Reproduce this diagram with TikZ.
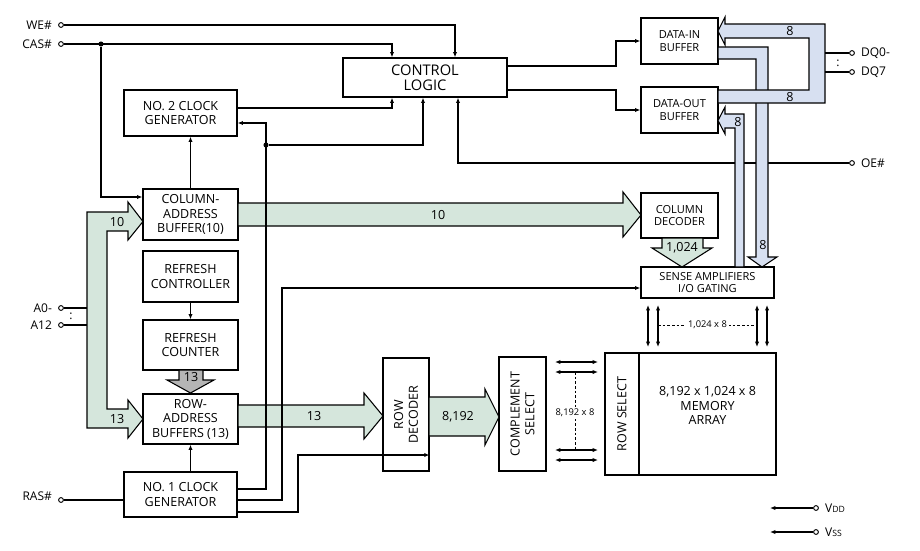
\documentclass[tikz,border=0pt]{standalone}
\usepackage{fontspec}
\setmainfont{Open Sans}
\usetikzlibrary{arrows.meta,positioning}

\definecolor{busgreen}{HTML}{D5E6DC}
\definecolor{busblue}{HTML}{D7E0F1}
\definecolor{busgray}{HTML}{B5B5B5}

\newcommand{\fbig}{\fontsize{11}{11.5}\selectfont}
\newcommand{\fmid}{\fontsize{9.4}{10.9}\selectfont}
\newcommand{\fsml}{\fontsize{8.3}{9.6}\selectfont}
\newcommand{\ftiny}{\fontsize{7}{8}\selectfont}

\tikzset{
  box/.style 2 args={draw, line width=0.9pt, inner sep=0pt, align=center,
    minimum width=#1*0.75pt, minimum height=#2*0.75pt},
  arr/.style={line width=0.8pt, -{Latex[length=4pt,width=3.2pt]}},
  biarr/.style={line width=0.8pt, {Latex[length=4pt,width=3.2pt]}-{Latex[length=4pt,width=3.2pt]}},
  wire/.style={line width=0.8pt},
  term/.style={circle, draw, line width=0.7pt, fill=white, inner sep=0pt, minimum size=3.6pt},
  dot/.style={circle, fill, inner sep=0pt, minimum size=3.8pt},
  pinlbl/.style={font=\fontsize{9}{10}\selectfont, inner sep=0pt},
  buslbl/.style={font=\fontsize{9.4}{10}\selectfont, inner sep=0pt},
  gbus/.style={fill=busgreen, draw, line width=0.8pt},
  bbus/.style={fill=busblue, draw, line width=0.8pt},
}

\begin{document}
\begin{tikzpicture}[x=0.75pt,y=-0.75pt]
\useasboundingbox (0,0) rectangle (920,550);

% blocks
\node[box={164}{39}, font=\fbig] (ctrl) at (425,77.5) {CONTROL\\LOGIC};
\node[box={113}{46}, font=\fmid] (clk2) at (180.5,113) {NO. 2 CLOCK\\GENERATOR};
\node[box={95}{51}, font=\fmid] (cab) at (190.5,214.5) {COLUMN-\\ADDRESS\\BUFFER(10)};
\node[box={95}{51}, font=\fmid] (rctl) at (190.5,276.5) {REFRESH\\CONTROLLER};
\node[box={95}{50}, font=\fmid] (rcnt) at (190.5,345) {REFRESH\\COUNTER};
\node[box={95}{50}, font=\fmid] (rab) at (190.5,419) {ROW-\\ADDRESS\\BUFFERS (13)};
\node[box={113}{45}, font=\fmid] (clk1) at (180.5,494.5) {NO. 1 CLOCK\\GENERATOR};
\node[box={77}{46}, font=\fsml] (din) at (679.5,41) {DATA-IN\\BUFFER};
\node[box={77}{46}, font=\fsml] (dout) at (679.5,110) {DATA-OUT\\BUFFER};
\node[box={77}{45}, font=\fsml] (cdec) at (679.5,215.5) {COLUMN\\DECODER};
\node[box={133}{31}, font=\fontsize{8.3}{9}\selectfont] (sense) at (707.5,282.5) {SENSE AMPLIFIERS\\I/O GATING};
\node[box={113}{46}, font=\fmid, rotate=90] (rdec) at (406,414.5) {ROW\\DECODER};
\node[box={114}{47}, font=\fmid, rotate=90] (csel) at (522.5,414) {COMPLEMENT\\SELECT};
\node[box={122}{34}, font=\fmid, rotate=90] (rsel) at (622,414) {ROW SELECT};
\node[box={137}{122}] (marray) at (707.5,414) {};
\node[font=\fmid, align=center] (marraytxt) at (707.5,405.5) {8,192 x 1,024 x 8\\MEMORY\\ARRAY};

% pins
\node[term] (we) at (61,25) {};
\node[term] (cas) at (61,44) {};
\node[term] (a0) at (61,308) {};
\node[term] (a12) at (61,325) {};
\node[term] (ras) at (61,500) {};
\node[term] (dq0) at (852,53) {};
\node[term] (dq7) at (852,72) {};
\node[term] (oe) at (852,163) {};
\node[term] (vdd) at (816,508) {};
\node[term] (vss) at (816,532) {};
\node[pinlbl, left=4.5pt of we] {WE\#};
\node[pinlbl, left=4.5pt of cas] {CAS\#};
\node[pinlbl, left=4.5pt of a0] {A0-};
\node[pinlbl, left=4.5pt of a12] {A12};
\node[pinlbl, left=4.5pt of ras, yshift=3pt] {RAS\#};
\node[pinlbl, right=4.5pt of dq0] {DQ0-};
\node[pinlbl, right=4.5pt of dq7] {DQ7};
\node[pinlbl, right=4.5pt of oe] {OE\#};
\node[pinlbl, right=4.5pt of vdd] {V{\fontsize{6.5}{7}\selectfont DD}};
\node[pinlbl, right=4.5pt of vss] {V{\fontsize{6.5}{7}\selectfont SS}};
\node[pinlbl] (acolon) at (71,316) {:};
\node[pinlbl] (dqcolon) at (838,63) {:};

% address buses
\draw[gbus] (128,202) -- (143,221.5) -- (128,240) -- (128,231) -- (107,231) -- (107,409)
  -- (128,409) -- (128,400) -- (143,419) -- (128,438) -- (128,428) -- (87,428) -- (87,212)
  -- (128,212) -- cycle;
\draw[gbus] (238,203) -- (623,203) -- (623,192) -- (641,215) -- (623,237) -- (623,226) -- (238,226) -- cycle;
\draw[gbus] (238,405) -- (364,405) -- (364,393) -- (383,416) -- (364,439) -- (364,427) -- (238,427) -- cycle;
\draw[gbus] (429,397) -- (485,397) -- (485,389) -- (499,417) -- (485,445) -- (485,436) -- (429,436) -- cycle;
\draw[gbus] (662,238) -- (662,248) -- (652,248) -- (682,267) -- (712,248) -- (703,248) -- (703,238) -- cycle;
\draw[fill=busgray, line width=0.8pt] (179,370) -- (179,380) -- (167,380) -- (190.5,393) -- (214,380) -- (203,380) -- (203,370) -- cycle;
\node[buslbl] at (117,222) {10};
\node[buslbl] at (117,419) {13};
\node[buslbl] at (438,215) {10};
\node[buslbl] at (314,416) {13};
\node[buslbl] at (458,417) {8,192};
\node[buslbl] at (682,248) {1,024};
\node[buslbl] at (191,377) {13};
\draw[wire] (a0.east) -- (87,308);
\draw[wire] (a12.east) -- (87,325);

% control wires
\draw[arr] (we.east) -| (ctrl.north -| 455,0);
\draw[arr] (cas.east) -| (ctrl.north -| 392,0);
\node[dot] (j1) at (101,44) {};
\draw[arr] (j1) |- (cab.west |- 0,197);
\draw[arr] (clk2.east |- 0,108) -| (ctrl.south -| 392,0);
\draw[arr] (clk1.east |- 0,489) -| (266,123) -- (clk2.east |- 0,123);
\node[dot] (j2) at (266,145) {};
\draw[arr] (j2) -| (ctrl.south -| 423,0);
\draw[arr] (cab.north) -- (clk2.south -| cab.north);
\draw[arr] (rctl.south) -- (rcnt.north);
\draw[arr] (clk1.north -| rab.south) -- (rab.south);
\draw[wire] (ras.east) -- (clk1.west |- ras.east);
\draw[arr] (clk1.east |- 0,500) -| (282,288) -- (sense.west |- 0,288);
\draw[arr] (clk1.east |- 0,512) -| (298,455) -- (rdec.south |- 0,455);
\draw[arr] (ctrl.east |- 0,66) -| (616,41) -- (din.west);
\draw[arr] (ctrl.east |- 0,90) -| (616,110) -- (dout.west);
\draw[arr] (oe.west) -| (ctrl.south -| 458,0);
\draw[arr] (vdd.west) -- (770,508);
\draw[arr] (vss.west) -- (770,532);

% data buses
\draw[bbus] (718,47) -- (768,47) -- (768,257) -- (777,257) -- (762,267) -- (748,257) -- (756,257) -- (756,59) -- (718,59) -- cycle;
\draw[bbus] (718,90) -- (809,90) -- (809,38) -- (725,38) -- (725,45) -- (718,31) -- (725,17) -- (725,24) -- (825,24) -- (825,103) -- (718,103) -- cycle;
\draw[bbus] (735,267) -- (735,128) -- (725,128) -- (725,134) -- (718,120.5) -- (725,107) -- (725,114) -- (744,114) -- (744,267) -- cycle;
\node[buslbl] at (790,31) {8};
\node[buslbl] at (790,97) {8};
\node[buslbl] at (738,122) {8};
\node[buslbl] at (763,245) {8};
\draw[wire] (dq0.west) -- (825,53);
\draw[wire] (dq7.west) -- (825,72);

% array i/o lines
\foreach \x in {648,658,757,767}
  \draw[biarr] (\x,305) -- (\x,347);
\draw[wire, line width=0.5pt, dash pattern=on 2pt off 1.5pt] (658,325) -- (757,325)
  node[midway, fill=white, inner sep=1.5pt, font=\ftiny] {1,024 x 8};
\foreach \y in {362,372,450,460}
  \draw[biarr] (555,\y) -- (598,\y);
\draw[wire, line width=0.5pt, dash pattern=on 2pt off 1.5pt] (575,372) -- (575,450);
\node[fill=white, inner sep=1.5pt, font=\ftiny] (rowlbl) at (575,413) {8,192 x 8};
\end{tikzpicture}
\end{document}
